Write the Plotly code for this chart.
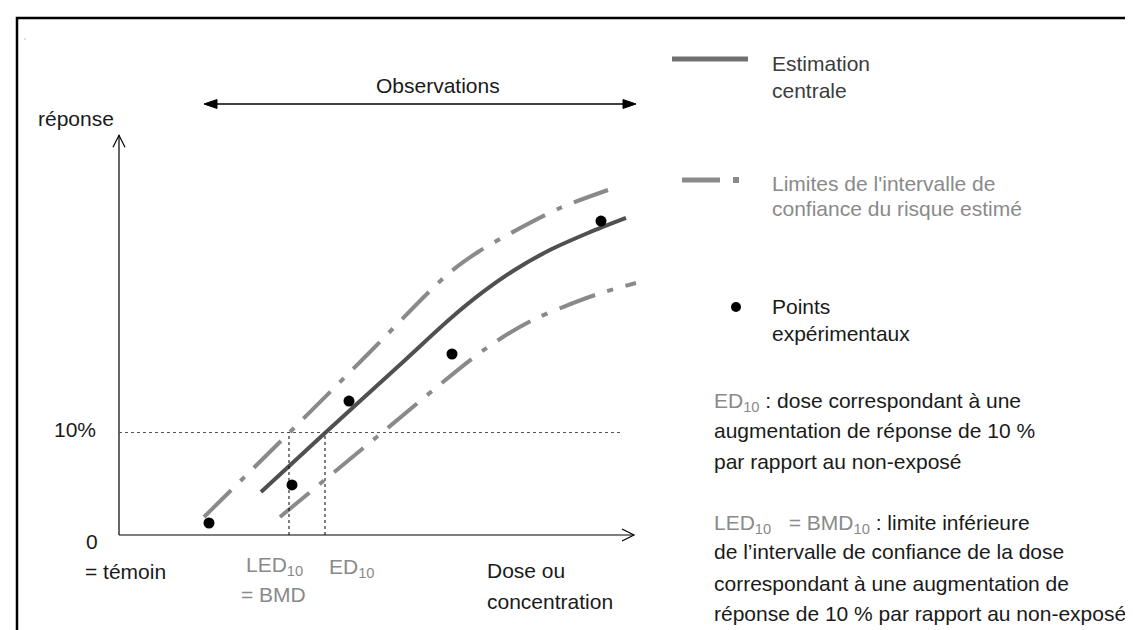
import plotly.graph_objects as go

# ---------------- data (schematic dose-response) ----------------
# dose in arbitrary units, response in %
point_dose = [4.5, 8.65, 11.5, 16.65, 24.1]
point_resp = [1.17, 4.88, 13.07, 17.66, 30.63]

central_dose = [7.1, 10.3, 14.2, 16.6, 18.2, 19.7, 21.45, 23.45, 25.35]
central_resp = [4.20, 9.95, 16.88, 21.17, 23.71, 25.76, 27.71, 29.46, 30.93]

upper_dose = [4.25, 8.5, 12.45, 16.45, 17.95, 19.6, 22.05, 24.45]
upper_resp = [1.76, 9.95, 17.66, 25.46, 27.61, 29.46, 31.9, 33.66]

lower_dose = [8.05, 12.95, 17.7, 19.2, 20.7, 22.2, 23.95, 25.85]
lower_resp = [1.76, 9.66, 17.27, 19.32, 20.98, 22.24, 23.51, 24.59]

threshold_resp = 10      # 10 % response
ed10 = 10.3
led10 = 8.5
dose_axis_max = 25.75
resp_axis_max = 39.0
threshold_line_end = 25.2

# ---------------- layout helpers ----------------
W, H = 1133, 630
X0, SX = 111, 20.0      # pixel of dose 0, pixels per dose unit
Y0, SY = 527, 10.25     # pixel of response 0, pixels per % response


def px(x):
    return x / W


def py(y):
    return 1 - y / H


def path(points, close=False):
    s = "M " + " L ".join(f"{px(x):.5f},{py(y):.5f}" for x, y in points)
    return s + (" Z" if close else "")


FONT = "Liberation Sans, Arial, Helvetica, sans-serif"
BLACK = "#1a1a1a"
GRAY_TXT = "#8a8a8a"
CI_COL = "#8a8a8a"
CENTRAL_COL = "#505050"

fig = go.Figure()

dash_pat = "38px,13px,6px,13px"
fig.add_trace(go.Scatter(x=upper_dose, y=upper_resp, mode="lines",
                         line=dict(color=CI_COL, width=4, dash=dash_pat, shape="spline", smoothing=0.9),
                         hoverinfo="skip"))
fig.add_trace(go.Scatter(x=lower_dose, y=lower_resp, mode="lines",
                         line=dict(color=CI_COL, width=4, dash=dash_pat, shape="spline", smoothing=0.9),
                         hoverinfo="skip"))
fig.add_trace(go.Scatter(x=central_dose, y=central_resp, mode="lines",
                         line=dict(color=CENTRAL_COL, width=4, shape="spline", smoothing=0.9),
                         hoverinfo="skip"))
fig.add_trace(go.Scatter(x=point_dose, y=point_resp, mode="markers",
                         marker=dict(color="black", size=11), hoverinfo="skip"))

shapes = []
# frame
shapes.append(dict(type="rect", xref="paper", yref="paper", x0=px(9), x1=px(1160), y0=py(660), y1=py(10),
                   line=dict(color="black", width=2.5), layer="below"))
# axes (data coords)
shapes.append(dict(type="line", xref="x", yref="y", x0=0, y0=0, x1=dose_axis_max, y1=0,
                   line=dict(color="black", width=1.2)))
shapes.append(dict(type="line", xref="x", yref="y", x0=0, y0=0, x1=0, y1=resp_axis_max,
                   line=dict(color="black", width=1.2)))
xt = X0 + dose_axis_max * SX
yt = Y0 - resp_axis_max * SY
shapes.append(dict(type="path", xref="paper", yref="paper",
                   path=path([(xt - 12, Y0 - 6), (xt, Y0), (xt - 12, Y0 + 6)]),
                   line=dict(color="black", width=1.2)))
shapes.append(dict(type="path", xref="paper", yref="paper",
                   path=path([(X0 - 6, yt + 12), (X0, yt), (X0 + 6, yt + 12)]),
                   line=dict(color="black", width=1.2)))
# threshold dotted lines
shapes.append(dict(type="line", xref="x", yref="y", x0=0, y0=threshold_resp, x1=threshold_line_end,
                   y1=threshold_resp, line=dict(color="#555555", width=1, dash="dot")))
for d in (led10, ed10):
    shapes.append(dict(type="line", xref="x", yref="y", x0=d, y0=0, x1=d, y1=threshold_resp,
                       line=dict(color="black", width=1, dash="dot")))
# observations double arrow
shapes.append(dict(type="line", xref="paper", yref="paper", x0=px(205), y0=py(96), x1=px(619), y1=py(96),
                   line=dict(color="black", width=1.3)))
shapes.append(dict(type="path", xref="paper", yref="paper",
                   path=path([(196, 96), (209, 91.5), (209, 100.5)], close=True),
                   fillcolor="black", line=dict(color="black", width=1)))
shapes.append(dict(type="path", xref="paper", yref="paper",
                   path=path([(628, 96), (615, 91.5), (615, 100.5)], close=True),
                   fillcolor="black", line=dict(color="black", width=1)))
# legend glyphs
shapes.append(dict(type="line", xref="paper", yref="paper", x0=px(664), y0=py(51), x1=px(740), y1=py(51),
                   line=dict(color="#707070", width=5)))
shapes.append(dict(type="line", xref="paper", yref="paper", x0=px(674), y0=py(172), x1=px(712), y1=py(172),
                   line=dict(color=CI_COL, width=5)))
shapes.append(dict(type="rect", xref="paper", yref="paper", x0=px(725), y0=py(175), x1=px(731), y1=py(169),
                   fillcolor=CI_COL, line=dict(width=0)))
shapes.append(dict(type="circle", xref="paper", yref="paper", x0=px(723), y0=py(304), x1=px(733), y1=py(294),
                   fillcolor="black", line=dict(width=0)))
# tiny stray dot top-left
shapes.append(dict(type="rect", xref="paper", yref="paper", x0=px(16.5), y0=py(31.5), x1=px(17.5), y1=py(30.5),
                   fillcolor="#888888", line=dict(width=0)))

fig.update_layout(shapes=shapes)

annots = []


def txt(text, x, y, color=BLACK, anchor="left"):
    annots.append(dict(text=text, x=px(x), y=py(y), xref="paper", yref="paper", showarrow=False,
                       xanchor=anchor, yanchor="middle", font=dict(family=FONT, size=21, color=color)))


G = GRAY_TXT
txt("Observations", 430, 77, anchor="center")
txt("réponse", 28, 110)
txt("10%", 90, 422, anchor="right")
txt("0", 76, 533)
txt("= témoin", 75, 563)
txt("LED<sub>10</sub>", 236, 558, G)
txt("= BMD", 231, 586, G)
txt("ED<sub>10</sub>", 319, 560, G)
txt("Dose ou", 477, 562)
txt("concentration", 477, 593)

txt("Estimation", 762, 55, "#3c3c3c")
txt("centrale", 762, 83, "#3c3c3c")
txt("Limites de l'intervalle de", 762, 175, G)
txt("confiance du risque estimé", 762, 200, G)
txt("Points", 762, 298)
txt("expérimentaux", 762, 325)

gs = f"<span style='color:{G}'>"
txt(f"{gs}ED<sub>10</sub></span> : dose correspondant à une", 704, 394)
txt("augmentation de réponse de 10 %", 704, 423)
txt("par rapport au non-exposé", 704, 453)
txt(f"{gs}LED<sub>10</sub>&nbsp;&nbsp; = BMD<sub>10</sub></span> : limite inférieure", 704, 516)
txt("de l’intervalle de confiance de la dose", 704, 543)
txt("correspondant à une augmentation de", 704, 575)
txt("réponse de 10 % par rapport au non-exposé", 704, 605)

fig.update_layout(
    annotations=annots,
    width=W, height=H,
    margin=dict(l=0, r=0, t=0, b=0),
    paper_bgcolor="white", plot_bgcolor="white",
    showlegend=False,
    xaxis=dict(range=[-X0 / SX, (W - X0) / SX], visible=False, fixedrange=True),
    yaxis=dict(range=[-(H - Y0) / SY, Y0 / SY], visible=False, fixedrange=True),
)

fig.write_html("out.html", config={"displayModeBar": False})
